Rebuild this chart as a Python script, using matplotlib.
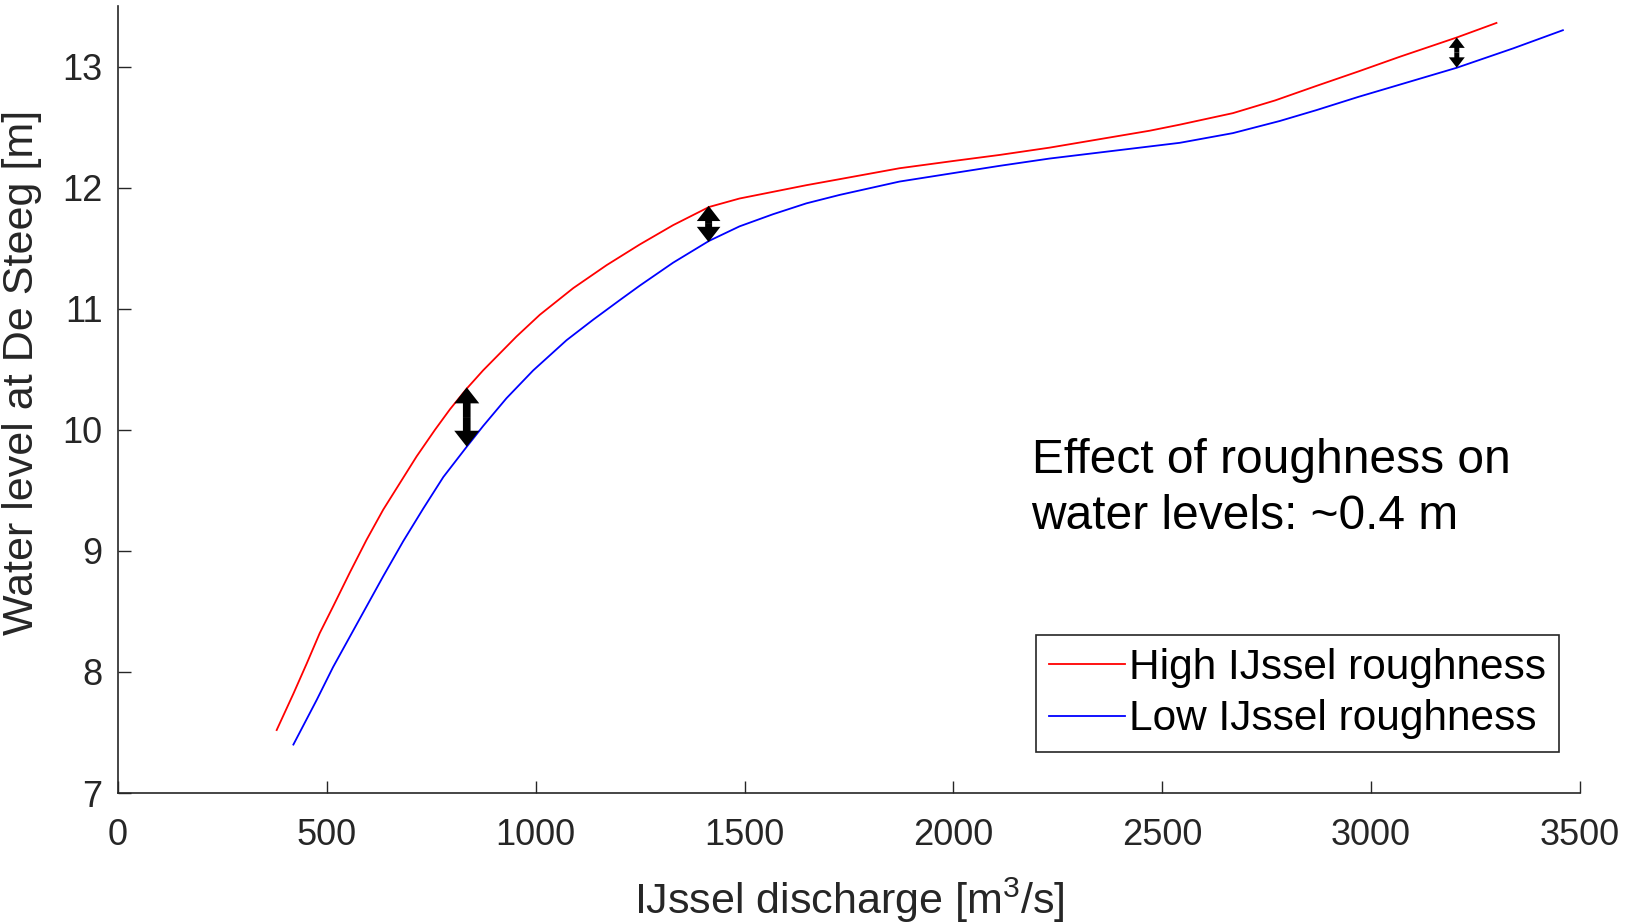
import numpy as np
import matplotlib
matplotlib.use('Agg')
import matplotlib.pyplot as plt
from matplotlib.patches import FancyArrowPatch

plt.rcParams['font.family'] = ['Liberation Sans', 'DejaVu Sans']
plt.rcParams['mathtext.fontset'] = 'custom'
plt.rcParams['mathtext.rm'] = 'Liberation Sans'
plt.rcParams['mathtext.default'] = 'regular'

# Discharge (m3/s) and water level (m)
high_q = [380, 420, 452, 483, 515, 555, 595, 635, 675, 715, 759, 795, 835, 874, 954,
          1010, 1090, 1170, 1249, 1329, 1415, 1488, 1568, 1648, 1728, 1871, 2000, 2111,
          2230, 2350, 2470, 2542, 2669, 2770, 2869, 2970, 3068, 3205, 3300]
high_h = [7.52, 7.82, 8.07, 8.32, 8.54, 8.82, 9.09, 9.34, 9.56, 9.78, 10.00, 10.17,
          10.34, 10.49, 10.77, 10.95, 11.17, 11.36, 11.53, 11.69, 11.84, 11.91, 11.965,
          12.02, 12.07, 12.16, 12.22, 12.27, 12.33, 12.40, 12.47, 12.52, 12.615, 12.72,
          12.84, 12.96, 13.08, 13.24, 13.36]

low_q = [420, 476, 515, 555, 595, 635, 683, 731, 779, 835, 874, 930, 994, 1074, 1138,
         1201, 1249, 1329, 1415, 1488, 1568, 1648, 1728, 1871, 2000, 2111, 2230, 2350,
         2470, 2542, 2669, 2781, 2869, 2970, 3068, 3205, 3340, 3459]
low_h = [7.40, 7.77, 8.04, 8.29, 8.54, 8.79, 9.08, 9.35, 9.61, 9.86, 10.03, 10.26,
         10.49, 10.74, 10.91, 11.07, 11.19, 11.38, 11.56, 11.68, 11.78, 11.87, 11.94,
         12.05, 12.12, 12.18, 12.24, 12.29, 12.34, 12.37, 12.45, 12.55, 12.64, 12.75,
         12.85, 12.99, 13.15, 13.30]

# double arrows showing the gap between the curves
arrow_q = [835, 1414, 3205]
arrow_top = [10.35, 11.85, 13.24]
arrow_bot = [9.86, 11.55, 12.99]
arrow_hl = [11.5, 11.0, 7.5]
arrow_hw = [18.0, 17.0, 11.5]
arrow_tw = [5.5, 5.0, 3.6]

x_ticks = [0, 500, 1000, 1500, 2000, 2500, 3000, 3500]
y_ticks = [7, 8, 9, 10, 11, 12, 13]

grey = '#262626'

fig = plt.figure(figsize=(16.38, 9.22), dpi=100)
ax = fig.add_axes([0.0720, 0.1399, 0.8926, 0.8536])

ax.plot(high_q, high_h, color='#ff0000', lw=1.3, label='High IJssel roughness')
ax.plot(low_q, low_h, color='#0000ff', lw=1.3, label='Low IJssel roughness')

for i in range(len(arrow_q)):
    mid = (arrow_top[i] + arrow_bot[i]) / 2
    style = 'simple,head_length=%g,head_width=%g,tail_width=%g' % (
        arrow_hl[i], arrow_hw[i], arrow_tw[i])
    for end in [arrow_top[i], arrow_bot[i]]:
        arr = FancyArrowPatch((arrow_q[i], mid), (arrow_q[i], end),
                              arrowstyle=style, mutation_scale=1, lw=0,
                              color='k', shrinkA=0, shrinkB=0, zorder=5)
        ax.add_patch(arr)

ax.set_xlim(0, 3500)
ax.set_ylim(7, 13.5)
ax.set_xticks(x_ticks)
ax.set_yticks(y_ticks)

ax.spines['top'].set_visible(False)
ax.spines['right'].set_visible(False)
for s in ['left', 'bottom']:
    ax.spines[s].set_color(grey)
    ax.spines[s].set_linewidth(1.2)

ax.tick_params(axis='both', direction='in', length=9, width=1.0, colors=grey,
               labelsize=26)
ax.tick_params(axis='x', pad=18)
ax.tick_params(axis='y', pad=11)

ax.set_xlabel('IJssel discharge [m$^3$/s]', fontsize=31, color=grey, labelpad=16)
ax.set_ylabel('Water level at De Steeg [m]', fontsize=31, color=grey)
ax.yaxis.set_label_coords(-0.052, 0.535)

ax.text(2187, 9.93, 'Effect of roughness on\nwater levels: ~0.4 m', fontsize=34.5,
        color='k', ha='left', va='top', linespacing=1.3)

leg = ax.legend(loc='upper left', bbox_to_anchor=(0.628, 0.201), borderaxespad=0,
                fontsize=30.5, frameon=True, fancybox=False, framealpha=1,
                edgecolor=grey, handlelength=1.8, handletextpad=0.1,
                labelspacing=0.28, borderpad=0.3)
leg.get_frame().set_linewidth(1.2)
for t in leg.get_texts():
    t.set_color('k')

fig.savefig('out.png', dpi=100)
